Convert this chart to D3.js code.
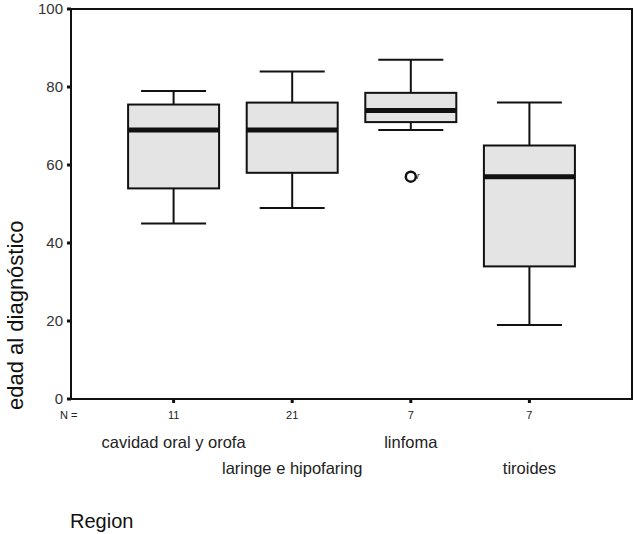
<!DOCTYPE html>
<html>
<head>
<meta charset="utf-8">
<script src="https://cdn.jsdelivr.net/npm/d3@7"></script>
<style>
  body { margin: 0; background: #fff; }
  text { font-family: "Liberation Sans", Arial, sans-serif; }
</style>
</head>
<body>
<div id="chart"></div>
<script>
// data
var regions = ["cavidad oral y orofa", "laringe e hipofaring", "linfoma", "tiroides"]
var counts = [11, 21, 7, 7]
var whiskLow = [45, 49, 69, 19]
var q1 = [54, 58, 71, 34]
var medians = [69, 69, 74, 57]
var q3 = [75.5, 76, 78.5, 65]
var whiskHigh = [79, 84, 87, 76]
var outliers = [{region: "linfoma", value: 57, label: "r"}]
var yTicks = [0, 20, 40, 60, 80, 100]

var width = 640, height = 534
var margin = {top: 9, right: 8, bottom: 135, left: 71}

var svg = d3.select("#chart").append("svg")
    .attr("width", width)
    .attr("height", height)

var x = d3.scalePoint()
    .domain(regions)
    .range([margin.left, width - margin.right])
    .padding(0.865)

var y = d3.scaleLinear()
    .domain([0, 100])
    .range([height - margin.bottom, margin.top])

var boxW = 91, capW = 65

var rows = regions.map(function(r, i) {
  return {region: r, n: counts[i], lo: whiskLow[i], q1: q1[i], med: medians[i], q3: q3[i], hi: whiskHigh[i]}
})

// frame
svg.append("rect")
    .attr("x", margin.left)
    .attr("y", y(100))
    .attr("width", width - margin.right - margin.left)
    .attr("height", y(0) - y(100))
    .attr("fill", "none")
    .attr("stroke", "#111")
    .attr("stroke-width", 2)

// y ticks (small squares) and labels
svg.selectAll(".ytick").data(yTicks).enter().append("rect")
    .attr("x", margin.left - 4)
    .attr("y", function(d) { return y(d) - 1.5 })
    .attr("width", 4)
    .attr("height", 3)
    .attr("fill", "#111")

svg.selectAll(".ylab").data(yTicks).enter().append("text")
    .attr("x", margin.left - 8)
    .attr("y", function(d) { return y(d) })
    .attr("dy", "0.35em")
    .attr("text-anchor", "end")
    .attr("font-size", 15)
    .attr("fill", "#333")
    .text(function(d) { return d })

// x ticks
svg.selectAll(".xtick").data(regions).enter().append("rect")
    .attr("x", function(d) { return x(d) - 1.5 })
    .attr("y", y(0))
    .attr("width", 3)
    .attr("height", 4)
    .attr("fill", "#111")

// N = row
svg.append("text")
    .attr("x", 60)
    .attr("y", 419)
    .attr("font-size", 11)
    .attr("fill", "#222")
    .text("N =")

svg.selectAll(".nlab").data(rows).enter().append("text")
    .attr("x", function(d) { return x(d.region) })
    .attr("y", 419)
    .attr("text-anchor", "middle")
    .attr("font-size", 11)
    .attr("fill", "#222")
    .text(function(d) { return d.n })

// category labels, staggered
svg.selectAll(".clab").data(regions).enter().append("text")
    .attr("x", function(d) { return x(d) })
    .attr("y", function(d, i) { return i % 2 == 0 ? 448 : 474 })
    .attr("text-anchor", "middle")
    .attr("font-size", 16.5)
    .attr("fill", "#222")
    .text(function(d) { return d })

// axis titles
svg.append("text")
    .attr("x", 70)
    .attr("y", 528)
    .attr("font-size", 20)
    .attr("fill", "#111")
    .text("Region")

svg.append("text")
    .attr("transform", "translate(23,410) rotate(-90)")
    .attr("font-size", 22)
    .attr("fill", "#111")
    .text("edad al diagnóstico")

// boxes
var g = svg.selectAll(".box").data(rows).enter().append("g")
    .attr("class", "box")
    .attr("stroke", "#111")

g.append("line")
    .attr("x1", function(d) { return x(d.region) })
    .attr("x2", function(d) { return x(d.region) })
    .attr("y1", function(d) { return y(d.hi) })
    .attr("y2", function(d) { return y(d.q3) })
    .attr("stroke-width", 2)

g.append("line")
    .attr("x1", function(d) { return x(d.region) })
    .attr("x2", function(d) { return x(d.region) })
    .attr("y1", function(d) { return y(d.q1) })
    .attr("y2", function(d) { return y(d.lo) })
    .attr("stroke-width", 2)

g.selectAll(".cap").data(function(d) { return [d.hi, d.lo].map(function(v) { return {r: d.region, v: v} }) })
  .enter().append("line")
    .attr("x1", function(d) { return x(d.r) - capW / 2 })
    .attr("x2", function(d) { return x(d.r) + capW / 2 })
    .attr("y1", function(d) { return y(d.v) })
    .attr("y2", function(d) { return y(d.v) })
    .attr("stroke-width", 2)

g.append("rect")
    .attr("x", function(d) { return x(d.region) - boxW / 2 })
    .attr("y", function(d) { return y(d.q3) })
    .attr("width", boxW)
    .attr("height", function(d) { return y(d.q1) - y(d.q3) })
    .attr("fill", "#e4e4e4")
    .attr("stroke-width", 2)

g.append("line")
    .attr("x1", function(d) { return x(d.region) - boxW / 2 })
    .attr("x2", function(d) { return x(d.region) + boxW / 2 })
    .attr("y1", function(d) { return y(d.med) })
    .attr("y2", function(d) { return y(d.med) })
    .attr("stroke-width", 5)

// outliers
svg.selectAll(".out").data(outliers).enter().append("circle")
    .attr("cx", function(d) { return x(d.region) })
    .attr("cy", function(d) { return y(d.value) })
    .attr("r", 5)
    .attr("fill", "none")
    .attr("stroke", "#111")
    .attr("stroke-width", 2.5)

svg.selectAll(".outlab").data(outliers).enter().append("text")
    .attr("x", function(d) { return x(d.region) + 6 })
    .attr("y", function(d) { return y(d.value) + 2 })
    .attr("font-size", 9)
    .attr("font-style", "italic")
    .attr("fill", "#222")
    .text(function(d) { return d.label })
</script>
</body>
</html>
